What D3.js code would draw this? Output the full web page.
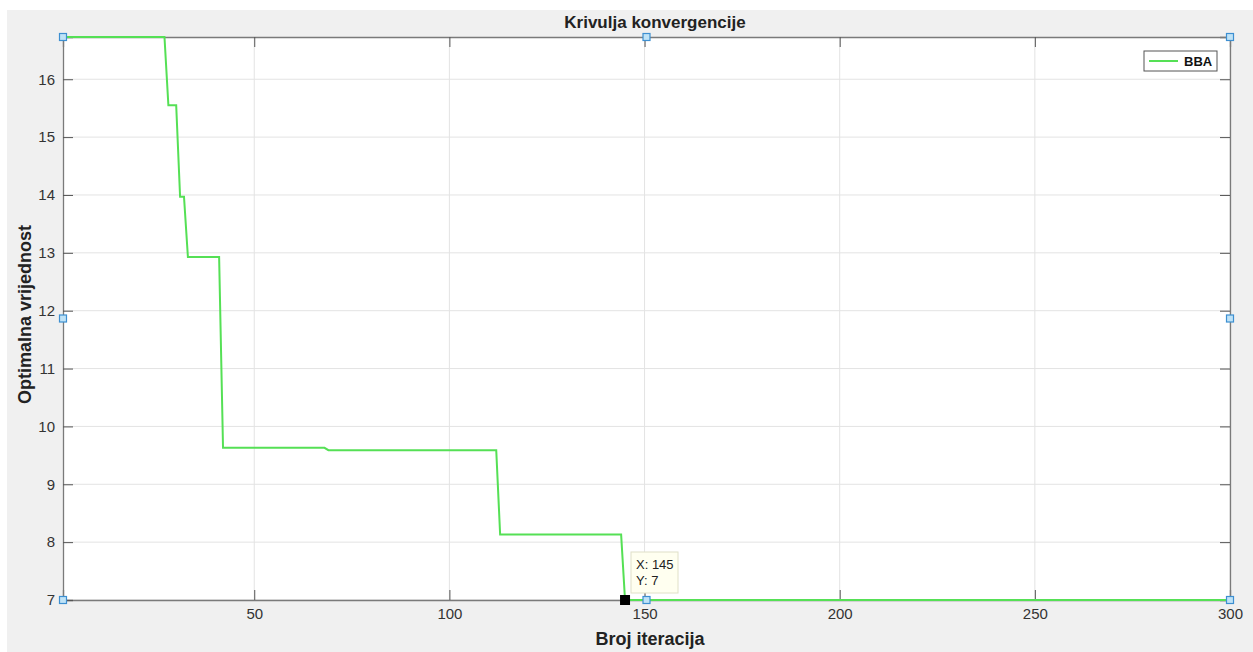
<!DOCTYPE html>
<html lang="en">
<head>
<meta charset="utf-8">
<title>Krivulja konvergencije</title>
<script src="https://d3js.org/d3.v7.min.js"></script>
<style>
  body { margin: 0; background: #fff; font-family: "Liberation Sans", Arial, Helvetica, sans-serif; }
</style>
</head>
<body>
<script>
// iteration numbers where the best value changes, and the values there
var iterations = [1, 27, 28, 30, 31, 32, 33, 41, 42, 68, 69, 112, 113, 144, 145, 300];
var bestValues = [16.73, 16.73, 15.55, 15.55, 13.97, 13.97, 12.93, 12.93, 9.63, 9.63, 9.59, 9.59, 8.13, 8.13, 7, 7];
var xTicks = [50, 100, 150, 200, 250, 300];
var yTicks = [7, 8, 9, 10, 11, 12, 13, 14, 15, 16];
var seriesName = "BBA";
var tipPoint = [145, 7];

var w = 1253, h = 652;
// plot box (note: "top" is reserved on window, so use other names)
var boxL = 63, boxR = 1230, boxT = 37, boxB = 600;

var svg = d3.select("body").append("svg")
  .attr("width", w).attr("height", h);

// figure background
svg.append("rect").attr("x", 7).attr("y", 10).attr("width", w - 7).attr("height", h - 10)
  .attr("fill", "#f0f0f0");
svg.append("rect").attr("x", boxL).attr("y", boxT).attr("width", boxR - boxL).attr("height", boxB - boxT)
  .attr("fill", "#fff");

var x = d3.scaleLinear().domain([1, 300]).range([boxL, boxR]);
var y = d3.scaleLinear().domain([7, 16.73]).range([boxB, boxT]);

// grid
svg.append("g").selectAll("line").data(xTicks).enter().append("line")
  .attr("x1", function(d) { return x(d); }).attr("x2", function(d) { return x(d); })
  .attr("y1", boxT).attr("y2", boxB)
  .attr("stroke", "#e3e3e3").attr("stroke-width", 1);
svg.append("g").selectAll("line").data(yTicks).enter().append("line")
  .attr("x1", boxL).attr("x2", boxR)
  .attr("y1", function(d) { return y(d); }).attr("y2", function(d) { return y(d); })
  .attr("stroke", "#e3e3e3").attr("stroke-width", 1);

// axes
var axisColor = "#7a7a7a";
var xAxis = svg.append("g").attr("transform", "translate(0," + boxB + ")")
  .call(d3.axisBottom(x).tickValues(xTicks).tickSize(-10).tickPadding(8));
var xAxisTop = svg.append("g").attr("transform", "translate(0," + boxT + ")")
  .call(d3.axisTop(x).tickValues(xTicks).tickSize(-10).tickFormat(""));
var yAxis = svg.append("g").attr("transform", "translate(" + boxL + ",0)")
  .call(d3.axisLeft(y).tickValues(yTicks).tickSize(-10).tickPadding(8));
var yAxisRight = svg.append("g").attr("transform", "translate(" + boxR + ",0)")
  .call(d3.axisRight(y).tickValues(yTicks).tickSize(-10).tickFormat(""));

[xAxis, xAxisTop, yAxis, yAxisRight].forEach(function(a) {
  a.select(".domain").attr("stroke", axisColor).attr("stroke-width", 1.3);
  a.selectAll(".tick line").attr("stroke", "#555").attr("stroke-width", 1);
  a.selectAll("text").attr("fill", "#333").attr("font-size", "15px")
    .attr("font-family", "Liberation Sans, Arial, sans-serif");
});

// line
var data = iterations.map(function(d, i) { return [d, bestValues[i]]; });
var line = d3.line().x(function(d) { return x(d[0]); }).y(function(d) { return y(d[1]); });
svg.append("path").datum(data).attr("d", line)
  .attr("fill", "none").attr("stroke", "#55e055").attr("stroke-width", 2);

// titles
svg.append("text").attr("x", 655).attr("y", 28)
  .attr("text-anchor", "middle").attr("font-size", "17px").attr("font-weight", "bold")
  .attr("fill", "#222").text("Krivulja konvergencije");
svg.append("text").attr("x", 650).attr("y", 645)
  .attr("text-anchor", "middle").attr("font-size", "18px").attr("font-weight", "bold")
  .attr("fill", "#222").text("Broj iteracija");
svg.append("text").attr("transform", "translate(31," + ((boxT + boxB) / 2 - 4) + ") rotate(-90)")
  .attr("text-anchor", "middle").attr("font-size", "18px").attr("font-weight", "bold")
  .attr("fill", "#222").text("Optimalna vrijednost");

// legend
var lg = svg.append("g").attr("transform", "translate(1144,51)");
lg.append("rect").attr("width", 73).attr("height", 20).attr("fill", "#fff")
  .attr("stroke", "#555").attr("stroke-width", 1);
lg.append("line").attr("x1", 5).attr("x2", 34).attr("y1", 10).attr("y2", 10)
  .attr("stroke", "#55e055").attr("stroke-width", 2);
lg.append("text").attr("x", 40).attr("y", 15).attr("font-size", "13px").attr("font-weight", "bold")
  .attr("fill", "#111").text(seriesName);

// data tip
svg.append("rect").attr("x", x(tipPoint[0]) - 5).attr("y", y(tipPoint[1]) - 5)
  .attr("width", 10).attr("height", 10).attr("fill", "#000");
var tip = svg.append("g").attr("transform", "translate(631,552)");
tip.append("rect").attr("width", 47).attr("height", 41).attr("fill", "#fffff0")
  .attr("stroke", "#e0e0c8").attr("stroke-width", 1);
tip.append("text").attr("x", 5).attr("y", 17).attr("font-size", "13px").attr("fill", "#222")
  .text("X: " + tipPoint[0]);
tip.append("text").attr("x", 5).attr("y", 33).attr("font-size", "13px").attr("fill", "#222")
  .text("Y: " + tipPoint[1]);

// edit handles around the axes
var handles = [[boxL, boxT], [(boxL + boxR) / 2, boxT], [boxR, boxT],
  [boxL, (boxT + boxB) / 2], [boxR, (boxT + boxB) / 2],
  [boxL, boxB], [(boxL + boxR) / 2, boxB], [boxR, boxB]];
svg.append("g").selectAll("rect").data(handles).enter().append("rect")
  .attr("x", function(d) { return d[0] - 3.5; }).attr("y", function(d) { return d[1] - 3.5; })
  .attr("width", 7).attr("height", 7)
  .attr("fill", "#bfe3f7").attr("stroke", "#3d8fd1").attr("stroke-width", 1.2);
</script>
</body>
</html>
